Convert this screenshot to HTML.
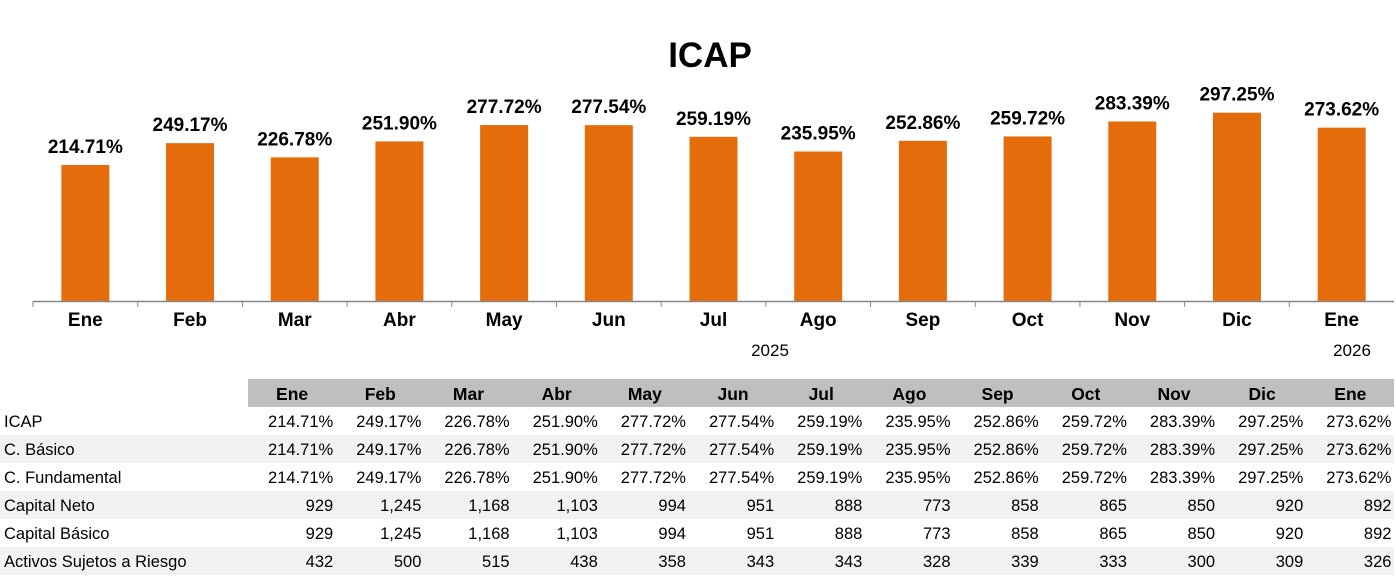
<!DOCTYPE html>
<html><head><style>
body{margin:0;width:1396px;height:577px;background:#fff;font-family:"Liberation Sans",Arial,sans-serif;position:relative;overflow:hidden}
.a{position:absolute}
table{position:absolute;left:0;top:379px;border-collapse:collapse;font-size:16.5px}
td{height:25px;padding:3px 3px 0 0;text-align:right;width:85.2px}
td:first-child{width:244px;text-align:left;padding:3px 0 0 4px}
tr.h td{background:#bfbfbf;font-weight:bold;text-align:center;padding:3px 0 0 0;font-size:17.5px}
tr.h td:first-child{background:#fff}
tr.s td{background:#f2f2f2}
</style></head><body>
<div class="a" style="left:610px;top:36px;width:200px;text-align:center;font-weight:bold;font-size:35px">ICAP</div>
<svg class="a" style="left:0;top:0" width="1396" height="370" font-family="Liberation Sans, Arial, sans-serif">
<g id="g"></g>
<line x1="33" y1="301.5" x2="1394" y2="301.5" stroke="#888" stroke-width="1.5"/>
<text x="770" y="356" font-size="17" text-anchor="middle">2025</text>
<text x="1352" y="356" font-size="17" text-anchor="middle">2026</text>
</svg>
<script>
var m=["Ene","Feb","Mar","Abr","May","Jun","Jul","Ago","Sep","Oct","Nov","Dic","Ene"];
var v=[214.71,249.17,226.78,251.90,277.72,277.54,259.19,235.95,252.86,259.72,283.39,297.25,273.62];
var s="",w=(1394-33)/13;
for(var i=0;i<13;i++){var c=33+w*(i+0.5),h=v[i]*0.6335,t=301-h;
s+='<rect x="'+(c-24)+'" y="'+t+'" width="48" height="'+h+'" fill="#e46c0a"/>';
s+='<text x="'+c+'" y="'+(t-12)+'" font-size="19" font-weight="bold" text-anchor="middle">'+v[i].toFixed(2)+'%</text>';
s+='<text x="'+c+'" y="326" font-size="19" font-weight="bold" text-anchor="middle">'+m[i]+'</text>';
s+='<line x1="'+(33+w*i)+'" y1="301" x2="'+(33+w*i)+'" y2="307" stroke="#888"/>';}
document.getElementById("g").innerHTML=s;
</script>
<table>
<tr class="h"><td></td><td>Ene</td><td>Feb</td><td>Mar</td><td>Abr</td><td>May</td><td>Jun</td><td>Jul</td><td>Ago</td><td>Sep</td><td>Oct</td><td>Nov</td><td>Dic</td><td>Ene</td></tr>
<tr><td>ICAP</td><td>214.71%</td><td>249.17%</td><td>226.78%</td><td>251.90%</td><td>277.72%</td><td>277.54%</td><td>259.19%</td><td>235.95%</td><td>252.86%</td><td>259.72%</td><td>283.39%</td><td>297.25%</td><td>273.62%</td></tr>
<tr class="s"><td>C. Básico</td><td>214.71%</td><td>249.17%</td><td>226.78%</td><td>251.90%</td><td>277.72%</td><td>277.54%</td><td>259.19%</td><td>235.95%</td><td>252.86%</td><td>259.72%</td><td>283.39%</td><td>297.25%</td><td>273.62%</td></tr>
<tr><td>C. Fundamental</td><td>214.71%</td><td>249.17%</td><td>226.78%</td><td>251.90%</td><td>277.72%</td><td>277.54%</td><td>259.19%</td><td>235.95%</td><td>252.86%</td><td>259.72%</td><td>283.39%</td><td>297.25%</td><td>273.62%</td></tr>
<tr class="s"><td>Capital Neto</td><td>929</td><td>1,245</td><td>1,168</td><td>1,103</td><td>994</td><td>951</td><td>888</td><td>773</td><td>858</td><td>865</td><td>850</td><td>920</td><td>892</td></tr>
<tr><td>Capital Básico</td><td>929</td><td>1,245</td><td>1,168</td><td>1,103</td><td>994</td><td>951</td><td>888</td><td>773</td><td>858</td><td>865</td><td>850</td><td>920</td><td>892</td></tr>
<tr class="s"><td>Activos Sujetos a Riesgo</td><td>432</td><td>500</td><td>515</td><td>438</td><td>358</td><td>343</td><td>343</td><td>328</td><td>339</td><td>333</td><td>300</td><td>309</td><td>326</td></tr>
</table>
</body></html>
